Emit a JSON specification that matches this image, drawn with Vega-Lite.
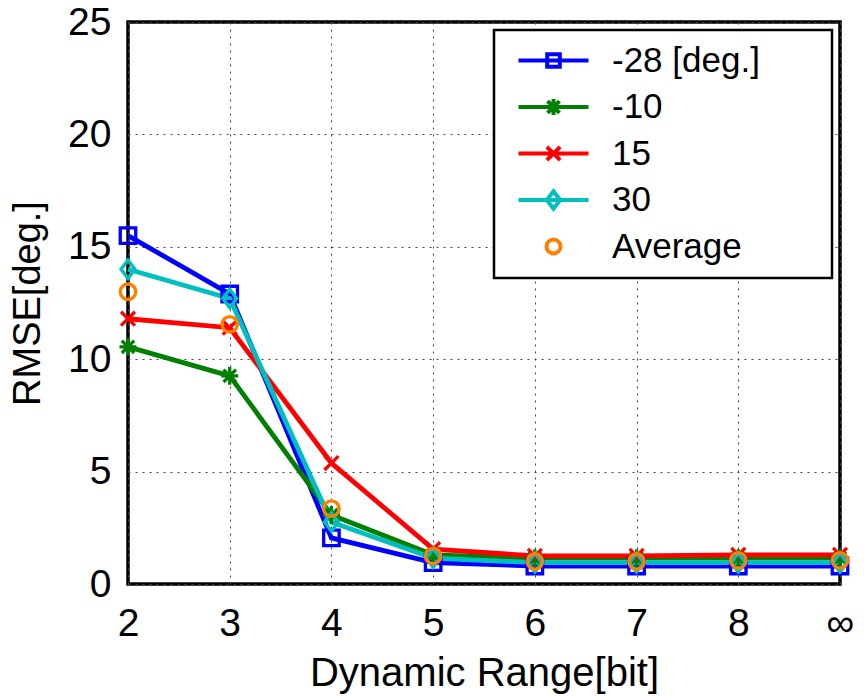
{
  "$schema": "https://vega.github.io/schema/vega-lite/v6.json",
  "width": 712,
  "height": 562,
  "autosize": {"type": "none"},
  "padding": {"left": 128, "top": 22, "right": 24, "bottom": 113},
  "config": {
    "font": "Liberation Sans",
    "view": {"stroke": "black", "strokeWidth": 3.5},
    "axis": {
      "domain": false,
      "ticks": false,
      "grid": true,
      "gridColor": "#444",
      "gridDash": [2, 5],
      "gridWidth": 1,
      "labelFontSize": 39,
      "labelColor": "black",
      "titleFontSize": 40,
      "titleFontWeight": "normal",
      "titleColor": "black"
    }
  },
  "resolve": {"legend": {"color": "independent"}},
  "data": {
    "values": [
      {"bits": "2", "series": "-28 [deg.]", "rmse": 15.5},
      {"bits": "3", "series": "-28 [deg.]", "rmse": 12.9},
      {"bits": "4", "series": "-28 [deg.]", "rmse": 2.05},
      {"bits": "5", "series": "-28 [deg.]", "rmse": 0.95},
      {"bits": "6", "series": "-28 [deg.]", "rmse": 0.8},
      {"bits": "7", "series": "-28 [deg.]", "rmse": 0.8},
      {"bits": "8", "series": "-28 [deg.]", "rmse": 0.8},
      {"bits": "∞", "series": "-28 [deg.]", "rmse": 0.8},
      {"bits": "2", "series": "-10", "rmse": 10.55},
      {"bits": "3", "series": "-10", "rmse": 9.26},
      {"bits": "4", "series": "-10", "rmse": 3.07},
      {"bits": "5", "series": "-10", "rmse": 1.3},
      {"bits": "6", "series": "-10", "rmse": 1.15},
      {"bits": "7", "series": "-10", "rmse": 1.15},
      {"bits": "8", "series": "-10", "rmse": 1.15},
      {"bits": "∞", "series": "-10", "rmse": 1.15},
      {"bits": "2", "series": "15", "rmse": 11.8},
      {"bits": "3", "series": "15", "rmse": 11.4},
      {"bits": "4", "series": "15", "rmse": 5.38},
      {"bits": "5", "series": "15", "rmse": 1.55},
      {"bits": "6", "series": "15", "rmse": 1.25},
      {"bits": "7", "series": "15", "rmse": 1.25},
      {"bits": "8", "series": "15", "rmse": 1.3},
      {"bits": "∞", "series": "15", "rmse": 1.3},
      {"bits": "2", "series": "30", "rmse": 14.0},
      {"bits": "3", "series": "30", "rmse": 12.7},
      {"bits": "4", "series": "30", "rmse": 2.76},
      {"bits": "5", "series": "30", "rmse": 1.15},
      {"bits": "6", "series": "30", "rmse": 0.95},
      {"bits": "7", "series": "30", "rmse": 0.95},
      {"bits": "8", "series": "30", "rmse": 0.95},
      {"bits": "∞", "series": "30", "rmse": 0.95},
      {"bits": "2", "series": "Average", "rmse": 13.0},
      {"bits": "3", "series": "Average", "rmse": 11.55},
      {"bits": "4", "series": "Average", "rmse": 3.35},
      {"bits": "5", "series": "Average", "rmse": 1.25},
      {"bits": "6", "series": "Average", "rmse": 1.0},
      {"bits": "7", "series": "Average", "rmse": 1.0},
      {"bits": "8", "series": "Average", "rmse": 1.05},
      {"bits": "∞", "series": "Average", "rmse": 1.05}
    ]
  },
  "encoding": {
    "x": {
      "field": "bits",
      "type": "ordinal",
      "scale": {"type": "point", "padding": 0, "domain": ["2", "3", "4", "5", "6", "7", "8", "∞"]},
      "axis": {"title": "Dynamic Range[bit]", "labelAngle": 0, "labelPadding": 20, "titlePadding": 10}
    },
    "y": {
      "field": "rmse",
      "type": "quantitative",
      "scale": {"domain": [0, 25]},
      "axis": {"title": "RMSE[deg.]", "titleFontSize": 38, "values": [0, 5, 10, 15, 20, 25], "labelPadding": 17, "titlePadding": 20}
    }
  },
  "layer": [
    {
      "transform": [{"filter": "datum.series !== 'Average'"}],
      "mark": {"type": "line", "strokeWidth": 4.8},
      "encoding": {
        "color": {
          "field": "series",
          "type": "nominal",
          "scale": {
            "domain": ["-28 [deg.]", "-10", "15", "30", "Average"],
            "range": ["#0000ff", "#008000", "#ff0000", "#00bfbf", "#ff8000"]
          },
          "legend": {
            "orient": "top-right",
            "offset": 8,
            "title": null,
            "labelFontSize": 35,
            "labelColor": "black",
            "labelLimit": 400,
            "padding": 13,
            "strokeColor": "black",
            "fillColor": "white",
            "symbolSize": 196,
            "symbolOffset": 29,
            "labelOffset": 41,
            "rowPadding": 10.5,
            "symbolStrokeWidth": 3.5,
            "labelExpr": "datum.label + '\u00a0\u00a0\u00a0\u00a0\u00a0\u00a0\u200b'",
            "encode": {
              "symbols": {
                "update": {
                  "shape": {"signal": "datum.value === '-28 [deg.]' ? 'M-5,0H5M-0.9,-0.9H0.9V0.9H-0.9Z' : datum.value === '-10' ? 'M-5,0H5M0,-1.15V1.15M-0.85,-0.85L0.85,0.85M-0.85,0.85L0.85,-0.85' : datum.value === '15' ? 'M-5,0H5M-0.95,-0.95L0.95,0.95M-0.95,0.95L0.95,-0.95' : datum.value === '30' ? 'M-5,0H5M0,-1.25L0.95,0L0,1.25L-0.95,0Z' : 'circle'"},
                  "fill": {"value": "transparent"},
                  "strokeWidth": {"value": 4},
                  "opacity": {"value": 1}
                }
              },
              "legend": {"update": {"strokeWidth": {"value": 2.5}}}
            }
          }
        }
      }
    },
    {
      "mark": {"type": "point", "filled": false, "strokeWidth": 3.3, "size": 240, "opacity": 1},
      "encoding": {
        "color": {"field": "series", "type": "nominal", "legend": null},
        "shape": {
          "field": "series",
          "type": "nominal",
          "scale": {
            "domain": ["-28 [deg.]", "-10", "15", "30", "Average"],
            "range": [
              "square",
              "M0,-1.15V1.15M-1.1,0H1.1M-0.8,-0.8L0.8,0.8M-0.8,0.8L0.8,-0.8",
              "M-0.9,-0.9L0.9,0.9M-0.9,0.9L0.9,-0.9",
              "M0,-1.2L0.9,0L0,1.2L-0.9,0Z",
              "circle"
            ]
          },
          "legend": null
        }
      }
    }
  ]
}
